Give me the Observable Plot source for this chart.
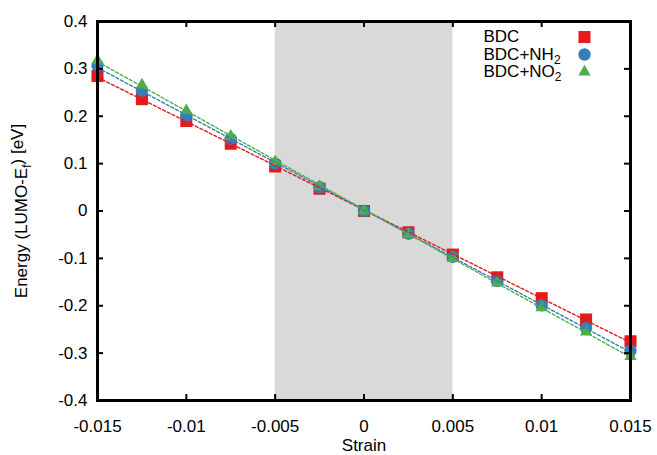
<!DOCTYPE html>
<html>
<head>
<meta charset="utf-8">
<script src="https://cdn.jsdelivr.net/npm/d3@7"></script>
<script src="https://cdn.jsdelivr.net/npm/@observablehq/plot@0.6"></script>
<style>
  html, body { margin: 0; padding: 0; background: white; }
</style>
</head>
<body>
<div id="chart"></div>
<script>
// ---- data ----
const strain = [-0.015, -0.0125, -0.01, -0.0075, -0.005, -0.0025, 0, 0.0025, 0.005, 0.0075, 0.01, 0.0125, 0.015];
const bdc    = [0.285, 0.236, 0.190, 0.142, 0.094, 0.047, 0, -0.045, -0.092, -0.140, -0.184, -0.229, -0.275];
const bdcNH2 = [0.307, 0.254, 0.201, 0.152, 0.100, 0.050, 0, -0.048, -0.097, -0.148, -0.199, -0.247, -0.295];
const bdcNO2 = [0.318, 0.266, 0.212, 0.158, 0.104, 0.052, 0, -0.050, -0.100, -0.152, -0.204, -0.255, -0.307];
const seriesNames = ["BDC", "BDC+NH2", "BDC+NO2"];
const seriesColors = ["#e41a1c", "#377eb8", "#4daf4a"];
const seriesSymbols = ["square", "circle", "triangle"];
const seriesR = [6.8, 6.2, 4.6];
const xTicks = [-0.015, -0.01, -0.005, 0, 0.005, 0.01, 0.015];
const yTicks = [-0.4, -0.3, -0.2, -0.1, 0, 0.1, 0.2, 0.3, 0.4];
const shade = [-0.005, 0.005];
const xLabel = "Strain";
const yLabel = "Energy (LUMO-Ef) [eV]";

const seriesValues = [bdc, bdcNH2, bdcNO2];
const rows = seriesNames.map((name, i) => strain.map((s, j) => ({series: name, x: s, y: seriesValues[i][j]})));

const W = 657, H = 455;
const mL = 97, mR = 27, mT = 21, mB = 55;
const pW = W - mL - mR, pH = H - mT - mB;
const tickLen = 6;

const marks = [
  Plot.rect([{x1: shade[0], x2: shade[1]}], {x1: "x1", x2: "x2", fill: "#d9d9d9"}),
];
// points
rows.forEach((r, i) => {
  marks.push(Plot.dot(r, {x: "x", y: "y", fill: seriesColors[i], symbol: () => seriesSymbols[i], r: seriesR[i], stroke: "none"}));
});
// dashed fit lines
rows.forEach((r, i) => {
  marks.push(Plot.linearRegressionY(r, {x: "x", y: "y", stroke: seriesColors[i], ci: 0, strokeWidth: 1.4, strokeDasharray: "3,2.2"}));
});
// inward ticks on all four sides
marks.push(
  Plot.tickX(xTicks, {x: d => d, stroke: "black", strokeWidth: 2, insetTop: pH - tickLen}),
  Plot.tickX(xTicks, {x: d => d, stroke: "black", strokeWidth: 2, insetBottom: pH - tickLen}),
  Plot.tickY(yTicks, {y: d => d, stroke: "black", strokeWidth: 2, insetRight: pW - tickLen}),
  Plot.tickY(yTicks, {y: d => d, stroke: "black", strokeWidth: 2, insetLeft: pW - tickLen}),
  Plot.axisX(xTicks, {tickSize: 0, tickPadding: 19, tickFormat: d => String(d), label: null, fontSize: 17}),
  Plot.axisY(yTicks, {tickSize: 0, tickPadding: 10, tickFormat: d => String(d), label: null, fontSize: 17}),
  Plot.text([xLabel], {text: d => d, frameAnchor: "bottom", dy: 45, textAnchor: "middle", lineAnchor: "middle", fontSize: 17, fill: "black"}),
  Plot.text([yLabel], {text: d => d, frameAnchor: "left", dx: -76, rotate: -90, textAnchor: "middle", lineAnchor: "middle", fontSize: 17, fill: "black"}),
);
// legend
seriesNames.forEach((name, i) => {
  const dy = 15.5 + i * 17.5;
  marks.push(Plot.text([name], {text: d => d, frameAnchor: "top-right", dx: -147, dy, textAnchor: "start", lineAnchor: "middle", fontSize: 17, fill: "black"}));
  marks.push(Plot.dot([name], {frameAnchor: "top-right", dx: -46, dy, fill: seriesColors[i], symbol: () => seriesSymbols[i], r: seriesR[i], stroke: "none"}));
});
marks.push(Plot.frame({stroke: "black", strokeWidth: 3}));

const chart = Plot.plot({
  width: W, height: H,
  marginLeft: mL, marginRight: mR, marginTop: mT, marginBottom: mB,
  style: {fontFamily: "'Liberation Sans', Arial, Helvetica, sans-serif", fontSize: "17px", background: "white", color: "black"},
  x: {domain: [-0.015, 0.015]},
  y: {domain: [-0.4, 0.4]},
  marks
});

// subscripts
const subs = {
  "BDC+NH2": ["BDC+NH", "2", ""],
  "BDC+NO2": ["BDC+NO", "2", ""],
  "Energy (LUMO-Ef) [eV]": ["Energy (LUMO-E", "f", ") [eV]"]
};
d3.select(chart).selectAll("text").each(function() {
  const t = this.textContent;
  if (subs[t]) {
    const [a, b, c] = subs[t];
    const sel = d3.select(this);
    sel.text(null);
    sel.append("tspan").text(a);
    sel.append("tspan").attr("dy", "0.32em").attr("font-size", "12px").text(b);
    if (c) sel.append("tspan").attr("dy", "-0.45em").text(c);
  }
});

document.getElementById("chart").appendChild(chart);
</script>
</body>
</html>
